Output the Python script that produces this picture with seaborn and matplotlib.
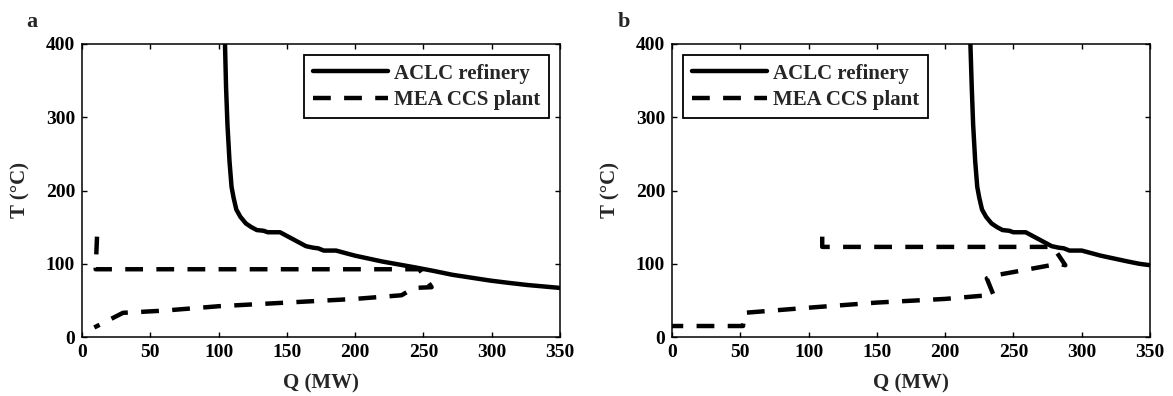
import matplotlib
matplotlib.use("Agg")
import matplotlib.pyplot as plt
import seaborn as sns

# panel a - ACLC refinery (hot curve)
q_aclc_a = [104.7, 105.5, 106.5, 108, 109.5, 111, 113, 116, 120, 124, 128, 133, 136, 145, 148, 153,
            158, 164, 169, 173, 177, 186, 192, 200, 210, 220, 232, 244, 258, 271, 285, 299, 312, 326, 338, 350]
t_aclc_a = [400, 340, 290, 240, 205, 190, 174, 164, 155, 150, 146, 145, 143, 143, 140, 135,
            130, 124, 122, 121, 118, 118, 115, 111, 107, 103, 99, 95, 90, 85, 81, 77, 74, 71, 69, 67]

# panel a - MEA CCS plant (cold curve), traced from the top-left end
q_mea_a = [11, 10, 247, 256, 243, 234, 200, 150, 100, 60, 30, 9]
t_mea_a = [137, 92.5, 92.5, 68, 67, 57, 52, 47, 42, 36, 33, 13]

# panel b - ACLC refinery
q_aclc_b = [218.5, 219.5, 220.5, 222, 223.5, 225, 227, 230, 234, 238, 242, 247, 250, 259, 262, 267,
            272, 278, 283, 287, 291, 300, 306, 314, 324, 334, 342, 350]
t_aclc_b = [400, 340, 290, 240, 205, 190, 174, 164, 155, 150, 146, 145, 143, 143, 140, 135,
            130, 124, 122, 121, 118, 118, 115, 111, 107, 103, 100, 98]

# panel b - MEA CCS plant
q_mea_b = [110, 110, 279, 288, 283, 251, 239, 230.5, 235.5, 225, 200, 150, 100, 53, 52, 0]
t_mea_b = [137, 123, 123, 98, 100, 89, 85, 80, 57, 56, 52, 47, 40, 33, 15, 15]

sns.set_style("ticks")
plt.rcParams['font.family'] = ['Liberation Serif', 'DejaVu Serif']
plt.rcParams['font.weight'] = 'bold'
plt.rcParams['axes.labelweight'] = 'bold'

fig = plt.figure(figsize=(11.73, 3.96), dpi=100)
W, H = 1173, 396
ax_a = fig.add_axes([82 / W, (H - 337) / H, 478 / W, 293 / H])
ax_b = fig.add_axes([672 / W, (H - 337) / H, 478 / W, 293 / H])

dash = (0, (4.0, 3.0))

panels = [
    (ax_a, q_aclc_a, t_aclc_a, q_mea_a, t_mea_a, 'upper right', 'a', 32),
    (ax_b, q_aclc_b, t_aclc_b, q_mea_b, t_mea_b, 'upper left', 'b', 624),
]

for ax, qh, th, qc, tc, loc, tag, tag_x in panels:
    sns.lineplot(x=qh, y=th, sort=False, estimator=None, color='black', linewidth=3.2,
                 ax=ax, label='ACLC refinery')
    sns.lineplot(x=qc, y=tc, sort=False, estimator=None, color='black', linewidth=3.2,
                 linestyle=dash, ax=ax, label='MEA CCS plant')
    ax.set_xlim(0, 350)
    ax.set_ylim(0, 400)
    ax.set_xticks(range(0, 351, 50))
    ax.set_yticks(range(0, 401, 100))
    ax.tick_params(direction='in', top=True, right=True, length=3.5, width=1,
                   labelsize=14, pad=5, colors='black')
    for lab in ax.get_xticklabels() + ax.get_yticklabels():
        lab.set_fontweight('bold')
    for sp in ax.spines.values():
        sp.set_visible(True)
        sp.set_linewidth(1.1)
        sp.set_color('black')
    ax.set_xlabel('Q (MW)', fontsize=15, fontweight='bold')
    ax.set_ylabel('T (°C)', fontsize=15, fontweight='bold')
    ax.xaxis.set_label_coords(0.5, -0.125)
    ax.yaxis.set_label_coords(-0.108, 0.5)
    leg = ax.legend(loc=loc, handlelength=3.6, handletextpad=0.3,
                    borderpad=0.4, labelspacing=0.3, borderaxespad=0.55,
                    fancybox=False, framealpha=1, prop={'weight': 'bold', 'size': 15})
    leg.get_frame().set_edgecolor('black')
    leg.get_frame().set_linewidth(1.3)
    fig.text(tag_x / W, 1 - 22 / H, tag, fontsize=16, fontweight='bold',
             ha='center', va='center')

fig.savefig('out.png', dpi=100)
